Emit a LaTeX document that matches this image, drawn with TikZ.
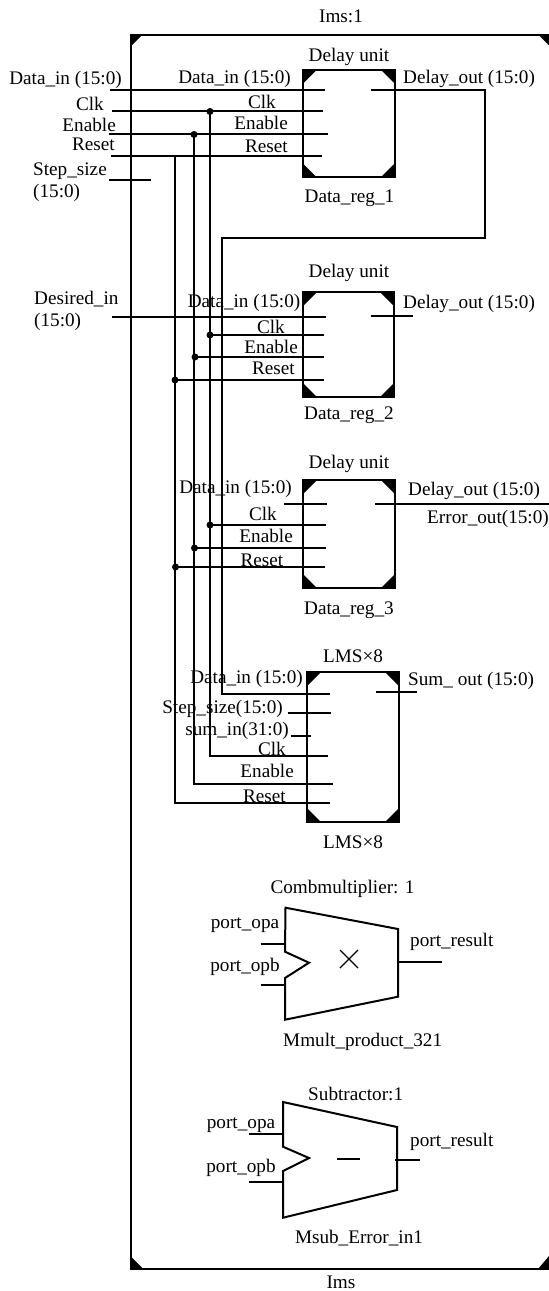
\documentclass[tikz,border=0pt]{standalone}
\usepackage{fontspec}
\setmainfont{Liberation Serif}
\tikzset{
  lbl/.style={inner sep=0pt,font=\fontsize{19.2}{21}\selectfont,anchor=base},
  wire/.style={line width=1.9pt,black},
  boxline/.style={line width=2pt,black},
  dotnode/.style={circle,fill=black,inner sep=0pt,minimum size=7pt},
  cornerfill/.style={fill=black,draw=none}
}
\newcommand{\regbox}[5]{% name l t r b
  \coordinate (#1nw) at (#2,#3);\coordinate (#1ne) at (#4,#3);\coordinate (#1se) at (#4,#5);\coordinate (#1sw) at (#2,#5);
  \draw[boxline] (#1nw) -- (#1ne) -- (#1se) -- (#1sw) -- cycle;
  \fill[cornerfill] (#1nw) -- ++(14,0) -- ++(-14,14) -- cycle;
  \fill[cornerfill] (#1ne) -- ++(-14,0) -- ++(14,14) -- cycle;
  \fill[cornerfill] (#1sw) -- ++(14,0) -- ++(-14,-14) -- cycle;
  \fill[cornerfill] (#1se) -- ++(-14,0) -- ++(14,-14) -- cycle;
}
\begin{document}
\begin{tikzpicture}[x=1pt,y=-1pt]
\useasboundingbox (0,0) rectangle (549,1291);
% outer
\coordinate (onw) at (130.5,34.5);\coordinate (one) at (549,34.5);\coordinate (osw) at (130.5,1269);\coordinate (ose) at (549,1269);
\draw[boxline] (one) -- (onw) -- (osw) -- (ose);
\fill[cornerfill] (onw) -- ++(12,0) -- ++(-12,12) -- cycle;
\fill[cornerfill] (one) -- ++(-11,0) -- ++(11,11) -- cycle;
\fill[cornerfill] (osw) -- ++(13,0) -- ++(-13,-13) -- cycle;
\fill[cornerfill] (ose) -- ++(-11,0) -- ++(11,-13) -- cycle;
\node[lbl] at (341,22) {Ims:1};
\node[lbl] at (341,1288) {Ims};
% boxes
\regbox{a}{302.5}{70}{395}{177}
\regbox{b}{303}{292}{394}{397}
\regbox{c}{303}{480}{395}{588}
\regbox{d}{307}{672}{399}{822}
% Box a labels
\node[lbl] at (349,61) {Delay unit};
\node[lbl] at (349.5,202) {Data\_reg\_1};
\node[lbl,anchor=base east] at (122,84) {Data\_in (15:0)};
\node[lbl,anchor=base east] at (104,110) {Clk};
\node[lbl,anchor=base east] at (116,131) {Enable};
\node[lbl,anchor=base east] at (115,150) {Reset};
\node[lbl,anchor=base west] at (33,175) {Step\_size};
\node[lbl,anchor=base west] at (33,197) {(15:0)};
\node[lbl,anchor=base east] at (291,83) {Data\_in (15:0)};
\node[lbl,anchor=base east] at (276,108) {Clk};
\node[lbl,anchor=base east] at (288,129) {Enable};
\node[lbl,anchor=base east] at (288,152) {Reset};
\node[lbl,anchor=base west] at (403,83) {Delay\_out (15:0)};
% Wires a
\coordinate (in1) at (110,90);\coordinate (in1e) at (325,90);
\draw[wire] (in1) -- (in1e);
\coordinate (clk) at (112,111);\coordinate (clke) at (323,111);
\draw[wire] (clk) -- (clke);
\coordinate (en) at (108.5,134);\coordinate (ene) at (328,134);
\draw[wire] (en) -- (ene);
\coordinate (rs) at (111,156);\coordinate (rse) at (322,156);
\draw[wire] (rs) -- (rse);
\coordinate (st) at (109,180);\coordinate (ste) at (151,180);
\draw[wire] (st) -- (ste);
\node[dotnode] (dclk) at (210,111.5) {};
\node[dotnode] (den) at (194,134.5) {};
% Out a to data_in d
\coordinate (oa) at (371,90);\coordinate (oa1) at (485,90);\coordinate (oa2) at (485,238);\coordinate (oa3) at (222,238);\coordinate (oa4) at (222,694);\coordinate (oa5) at (330,694);
\draw[wire,line join=miter] (oa) -- (oa1) -- (oa2) -- (oa3) -- (oa4) -- (oa5);
% box b
\node[lbl] at (349,277) {Delay unit};
\node[lbl] at (349,419) {Data\_reg\_2};
\node[lbl,anchor=base west] at (34,304) {Desired\_in};
\node[lbl,anchor=base west] at (34,326) {(15:0)};
\node[lbl,anchor=base east] at (300.5,307) {Data\_in (15:0)};
\node[lbl,anchor=base east] at (285,333) {Clk};
\node[lbl,anchor=base east] at (298,353) {Enable};
\node[lbl,anchor=base east] at (295,374) {Reset};
\node[lbl,anchor=base west] at (403,308) {Delay\_out (15:0)};
\coordinate (din) at (112,317);\coordinate (dine) at (325.6,317);
\draw[wire] (din) -- (dine);
\coordinate (ob) at (370.5,316);\coordinate (obe) at (413,316);
\draw[wire] (ob) -- (obe);
\node[dotnode] (bclk) at (210,335) {};
\node[dotnode] (ben) at (195,357) {};
\node[dotnode] (brs) at (175,380) {};
\draw[wire] (bclk.center) -- (324,335);
\draw[wire] (ben.center) -- (324,357);
\draw[wire] (brs.center) -- (324,380);
% box c
\node[lbl] at (349,468) {Delay unit};
\node[lbl] at (349,614) {Data\_reg\_3};
\node[lbl,anchor=base east] at (292,493) {Data\_in (15:0)};
\node[lbl,anchor=base east] at (277,520) {Clk};
\node[lbl,anchor=base east] at (293,542) {Enable};
\node[lbl,anchor=base east] at (283.5,566) {Reset};
\node[lbl,anchor=base west] at (408,495) {Delay\_out (15:0)};
\node[lbl,anchor=base east] at (549,523) {Error\_out(15:0)};
\coordinate (cin) at (284,504);\coordinate (cine) at (327,504);
\draw[wire] (cin) -- (cine);
\coordinate (oc) at (375,504);\coordinate (oce) at (549,504);
\draw[wire] (oc) -- (oce);
\node[dotnode] (cclk) at (210,525) {};
\node[dotnode] (cen) at (194.5,548) {};
\node[dotnode] (crs) at (175.5,567) {};
\draw[wire] (cclk.center) -- (326,525);
\draw[wire] (cen.center) -- (326,548);
\draw[wire] (crs.center) -- (325,567);
% box d
\node[lbl] at (353,662) {LMS×8};
\node[lbl] at (353,848) {LMS×8};
\node[lbl,anchor=base east] at (303,683) {Data\_in (15:0)};
\node[lbl,anchor=base east] at (283,713) {Step\_size(15:0)};
\node[lbl,anchor=base east] at (289,735) {sum\_in(31:0)};
\node[lbl,anchor=base east] at (286,755) {Clk};
\node[lbl,anchor=base east] at (294,777) {Enable};
\node[lbl,anchor=base east] at (286,802) {Reset};
\node[lbl,anchor=base west] at (408,685) {Sum\_ out (15:0)};
\coordinate (ds) at (287.7,713);\coordinate (dse) at (331,713);
\draw[wire] (ds) -- (dse);
\coordinate (dsu) at (290.7,736);\coordinate (dsue) at (310.7,736);
\draw[wire] (dsu) -- (dsue);
\coordinate (od) at (376,692);\coordinate (ode) at (417,692);
\draw[wire] (od) -- (ode);
% buses
\draw[wire,line join=miter] (dclk.center) -- (210,756) -- (328,756);
\draw[wire,line join=miter] (den.center) -- (194,784) -- (333,784);
\draw[wire,line join=miter] (175,156) -- (175,803) -- (330,803);
% multiplier
\node[lbl] at (342.5,893) {Combmultiplier: 1};
\node[lbl] at (362.7,1046) {Mmult\_product\_321};
\node[lbl] at (245,928) {port\_opa};
\node[lbl] at (245,971.7) {port\_opb};
\node[lbl,anchor=base west] at (410,946.7) {port\_result};
\draw[boxline,line join=miter] (285.5,907.7) -- (398,929) -- (398,996.7) -- (285,1019.7) -- (285,978) -- (309,962.7) -- (285,951.7) -- cycle;
\coordinate (ma) at (260.7,944);\coordinate (mae) at (285,944);
\draw[wire] (ma) -- (mae);
\coordinate (mb) at (260.7,985);\coordinate (mbe) at (285,985);
\draw[wire] (mb) -- (mbe);
\coordinate (mr) at (398,962);\coordinate (mre) at (441.7,962);
\draw[wire] (mr) -- (mre);
\draw[line width=1.3pt] (340,950) -- (358,968);
\draw[line width=1.3pt] (358,950) -- (340,968);
% subtractor
\node[lbl] at (355.7,1100.7) {Subtractor:1};
\node[lbl] at (359,1243) {Msub\_Error\_in1};
\node[lbl] at (241,1128) {port\_opa};
\node[lbl] at (241,1172) {port\_opb};
\node[lbl,anchor=base west] at (410,1146) {port\_result};
\draw[boxline,line join=miter] (283,1102) -- (397,1127) -- (397,1190) -- (283,1217.7) -- (283,1171) -- (309,1158) -- (283,1146.7) -- cycle;
\coordinate (sa) at (249,1134);\coordinate (sae) at (283,1134);
\draw[wire] (sa) -- (sae);
\coordinate (sb) at (249,1182);\coordinate (sbe) at (283,1182);
\draw[wire] (sb) -- (sbe);
\coordinate (sr) at (395,1160);\coordinate (sre) at (420,1160);
\draw[wire] (sr) -- (sre);
\draw[line width=1.9pt] (337,1159) -- (360,1159);
\end{tikzpicture}
\end{document}
